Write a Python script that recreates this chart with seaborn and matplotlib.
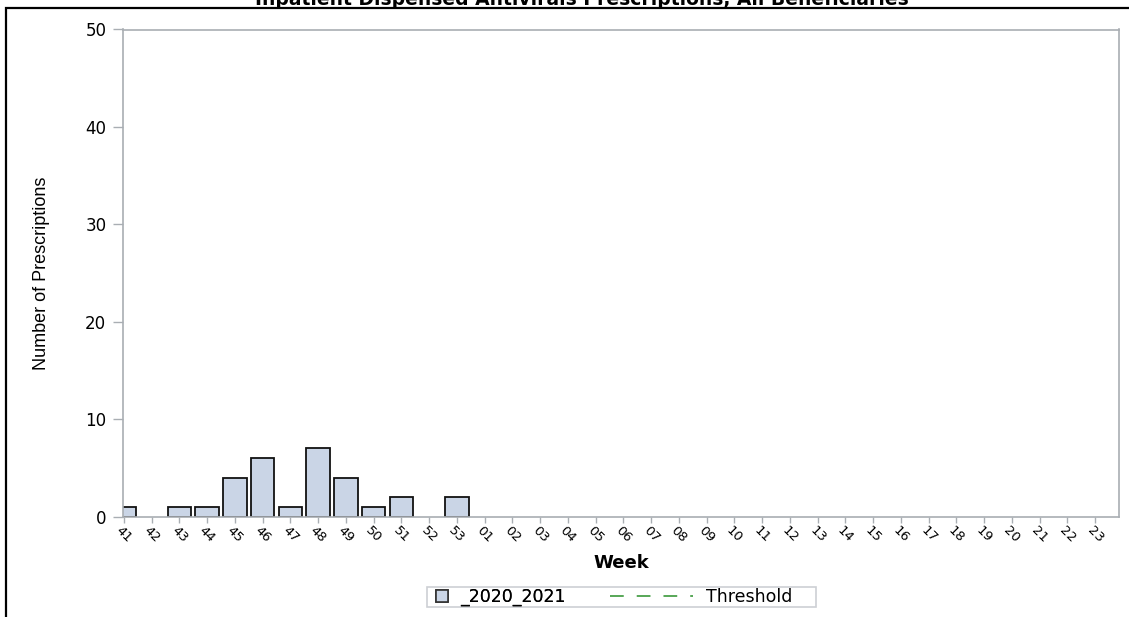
import matplotlib
matplotlib.use("Agg")
import matplotlib.pyplot as plt
import seaborn as sns
import pandas as pd
from matplotlib.patches import Rectangle, Patch
from matplotlib.lines import Line2D

# ---------------- data ----------------
weeks = ["41", "42", "43", "44", "45", "46", "47", "48", "49", "50", "51", "52", "53",
         "01", "02", "03", "04", "05", "06", "07", "08", "09", "10", "11", "12",
         "13", "14", "15", "16", "17", "18", "19", "20", "21", "22", "23"]
prescriptions_2020_2021 = [1, 0, 1, 1, 4, 6, 1, 7, 4, 1, 2, 0, 2,
                           0, 0, 0, 0, 0, 0, 0, 0, 0, 0, 0, 0,
                           0, 0, 0, 0, 0, 0, 0, 0, 0, 0, 0]
y_ticks = [0, 10, 20, 30, 40, 50]
series_label = "_2020_2021"
threshold_label = "Threshold"
title_text = "Inpatient Dispensed Antivirals Prescriptions, All Beneficiaries"
x_label = "Week"
y_label = "Number of Prescriptions"

# ---------------- style ----------------
sns.set_style("white")
plt.rcParams["font.family"] = ["DejaVu Sans"]
plt.rcParams["text.color"] = "black"
plt.rcParams["axes.labelcolor"] = "black"
plt.rcParams["xtick.labelcolor"] = "black"
plt.rcParams["ytick.labelcolor"] = "black"

W, H = 1129, 617
bar_color = "#CAD5E6"
edge_color = "#111111"
axis_gray = "#A9AEB3"
green = "#2A8F2A"

fig = plt.figure(figsize=(W / 100, H / 100), dpi=100)
ax = fig.add_axes([123 / W, 1 - 516.7 / H, (1119 - 123) / W, (516.7 - 29.5) / H])

df = pd.DataFrame({"Week": weeks, "Count": prescriptions_2020_2021})
sns.barplot(data=df, x="Week", y="Count", order=weeks, color=bar_color,
            saturation=1, edgecolor=edge_color, linewidth=1.3, width=0.85, ax=ax)

for p in ax.patches:
    if p.get_height() == 0:
        p.set_linewidth(0)

ax.set_xlim(-0.03, len(weeks) - 1 + 0.86)
ax.set_ylim(0, 50)
ax.set_yticks(y_ticks)
ax.set_yticklabels([str(v) for v in y_ticks])

for s in ax.spines.values():
    s.set_visible(True)
    s.set_color(axis_gray)
    s.set_linewidth(1.2)

ax.tick_params(axis="y", length=7.5, width=1.0, color=axis_gray, pad=4.5,
               labelsize=12, left=True)
ax.tick_params(axis="x", length=4, width=1.0, color=axis_gray, pad=1,
               labelsize=9.5, labelrotation=-45, bottom=True)
for lbl in ax.get_xticklabels():
    lbl.set_ha("center")
    lbl.set_va("top")

ax.set_xlabel("")
ax.set_ylabel(y_label, family=["Liberation Sans", "DejaVu Sans"], fontsize=13)
ax.yaxis.label.set_va("center")
ax.yaxis.set_label_coords((42 - 123) / (1119 - 123), 0.5)

fig.text(621 / W, 1 - 563 / H, x_label, ha="center", va="center",
         fontsize=13, fontweight="bold")

# title (cut at the top edge, as in the reference)
fig.text(582 / W, 1 - 5 / H, title_text, ha="center", va="baseline",
         fontsize=13.5, fontweight="bold")

# outer border (runs off the right and bottom edges)
fig.add_artist(Rectangle((6 / W, -0.05), 1.2, (1 - 7.5 / H) + 0.05,
                         transform=fig.transFigure, fill=False,
                         edgecolor="black", linewidth=1.6, clip_on=False))

# legend
fs_leg = 12.5
leg1 = fig.legend(handles=[Patch(facecolor=bar_color, edgecolor="#333333", linewidth=1.2)],
                  labels=[series_label], loc="center left",
                  bbox_to_anchor=(436 / W, 1 - 597 / H), frameon=False,
                  borderpad=0, borderaxespad=0, handlelength=0.68, handleheight=0.68,
                  handletextpad=0.7, fontsize=fs_leg)
leg2 = fig.legend(handles=[Line2D([0], [0], color=green, linewidth=1.1, dashes=(9, 8.5))],
                  labels=[threshold_label], loc="center left",
                  bbox_to_anchor=(610 / W, 1 - 597 / H), frameon=False,
                  borderpad=0, borderaxespad=0, handlelength=4.8,
                  handletextpad=0.75, fontsize=fs_leg)
fig.add_artist(leg1)
fig.add_artist(Rectangle((427 / W, 1 - 607.3 / H), (816 - 427) / W, 20.6 / H,
                         transform=fig.transFigure, fill=False,
                         edgecolor="#CDD0D4", linewidth=1.2))

fig.savefig("out.png", dpi=100)
